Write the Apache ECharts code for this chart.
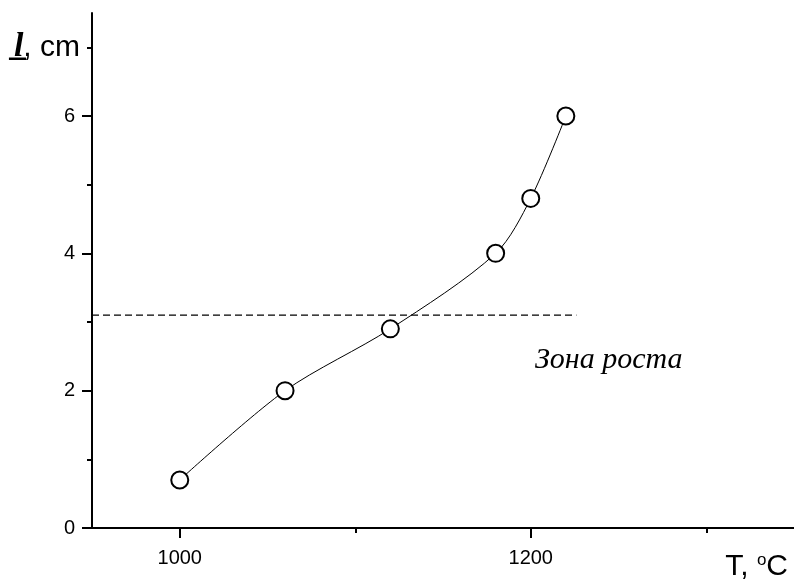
<!DOCTYPE html>
<html>
<head>
<meta charset="utf-8">
<script src="https://cdn.jsdelivr.net/npm/echarts@6/dist/echarts.min.js"></script>
<style>
  html, body { margin: 0; padding: 0; background: #fff; }
  #chart { width: 794px; height: 583px; }
</style>
</head>
<body>
<div id="chart"></div>
<script>
// measured points: temperature (°C) vs length (cm)
var temps = [1000, 1060, 1120, 1180, 1200, 1220]
var lengths = [0.7, 2.0, 2.9, 4.0, 4.8, 6.0]
// growth zone boundary (dashed)
var zoneTemps = [950, 1226]
var zoneLevel = [3.1, 3.1]
// ticks
var xMajor = [1000, 1200]
var xMinor = [1100, 1300]
var yMajor = [0, 2, 4, 6]
var yMinor = [1, 3, 5, 7]
var yNameAt = 7

var sans = "'Liberation Sans', Arial, sans-serif"
var serif = "'Liberation Serif', 'Times New Roman', serif"

var chart = echarts.init(document.getElementById('chart'))

var lineData = temps.map(function(t, i) { return [t, lengths[i]] })
var zoneData = zoneTemps.map(function(t, i) { return [t, zoneLevel[i]] })

var axisLine = { show: true, lineStyle: { color: '#000', width: 2 } }

chart.setOption({
  backgroundColor: '#fff',
  animation: false,
  grid: { left: 92, top: 13, width: 704, bottom: 55, containLabel: false },
  xAxis: [{
    type: 'value',
    min: 950,
    max: 1350,
    position: 'bottom',
    axisLine: axisLine,
    splitLine: { show: false },
    axisTick: { customValues: xMajor, length: 10, lineStyle: { color: '#000', width: 2 } },
    axisLabel: {
      customValues: xMajor,
      margin: 20,
      color: '#000',
      fontSize: 20,
      fontFamily: sans,
      formatter: function(v) { return String(v) }
    },
    name: '{a|T, }{b|o}{a|C}',
    nameLocation: 'end',
    nameGap: -6,
    nameTextStyle: {
      align: 'right',
      verticalAlign: 'top',
      padding: [24, 0, 0, 0],
      rich: {
        a: { fontSize: 30, fontFamily: sans, color: '#000' },
        b: { fontSize: 17, fontFamily: sans, color: '#000', verticalAlign: 'top' }
      }
    }
  }, {
    type: 'value',
    min: 950,
    max: 1350,
    position: 'bottom',
    axisLine: { show: false },
    splitLine: { show: false },
    axisTick: { customValues: xMinor, length: 5, lineStyle: { color: '#000', width: 2 } },
    axisLabel: { show: false }
  }],
  yAxis: [{
    type: 'value',
    min: 0,
    max: 7.5,
    position: 'left',
    axisLine: axisLine,
    splitLine: { show: false },
    axisTick: { customValues: yMajor, length: 10, lineStyle: { color: '#000', width: 2 } },
    axisLabel: {
      customValues: yMajor.concat([yNameAt]),
      margin: 12,
      color: '#000',
      formatter: function(v) {
        if (v === yNameAt) return '{l|l\u0332}{c|, cm}'
        return '{n|' + v + '}'
      },
      rich: {
        n: { fontSize: 20, fontFamily: sans, color: '#000', padding: [0, 5, 0, 0] },
        l: { fontSize: 34, fontFamily: serif, fontStyle: 'italic', fontWeight: 'bold', color: '#000' },
        c: { fontSize: 30, fontFamily: sans, color: '#000' }
      }
    }
  }, {
    type: 'value',
    min: 0,
    max: 7.5,
    position: 'left',
    axisLine: { show: false },
    splitLine: { show: false },
    axisTick: { customValues: yMinor, length: 5, lineStyle: { color: '#000', width: 2 } },
    axisLabel: { show: false }
  }],
  graphic: [{
    type: 'text',
    left: 535,
    top: 345,
    style: {
      text: 'Зона роста',
      font: 'italic 30px ' + serif,
      fill: '#000'
    }
  }],
  series: [{
    name: 'zone',
    type: 'line',
    xAxisIndex: 0,
    yAxisIndex: 0,
    data: zoneData,
    symbol: 'none',
    lineStyle: { color: '#000', width: 1.3, type: [7, 4] },
    silent: true
  }, {
    name: 'l',
    type: 'line',
    xAxisIndex: 0,
    yAxisIndex: 0,
    data: lineData,
    smooth: 0.3,
    symbol: 'circle',
    symbolSize: 17,
    lineStyle: { color: '#000', width: 1 },
    itemStyle: { color: '#fff', borderColor: '#000', borderWidth: 2 },
    z: 3
  }]
})
</script>
</body>
</html>
